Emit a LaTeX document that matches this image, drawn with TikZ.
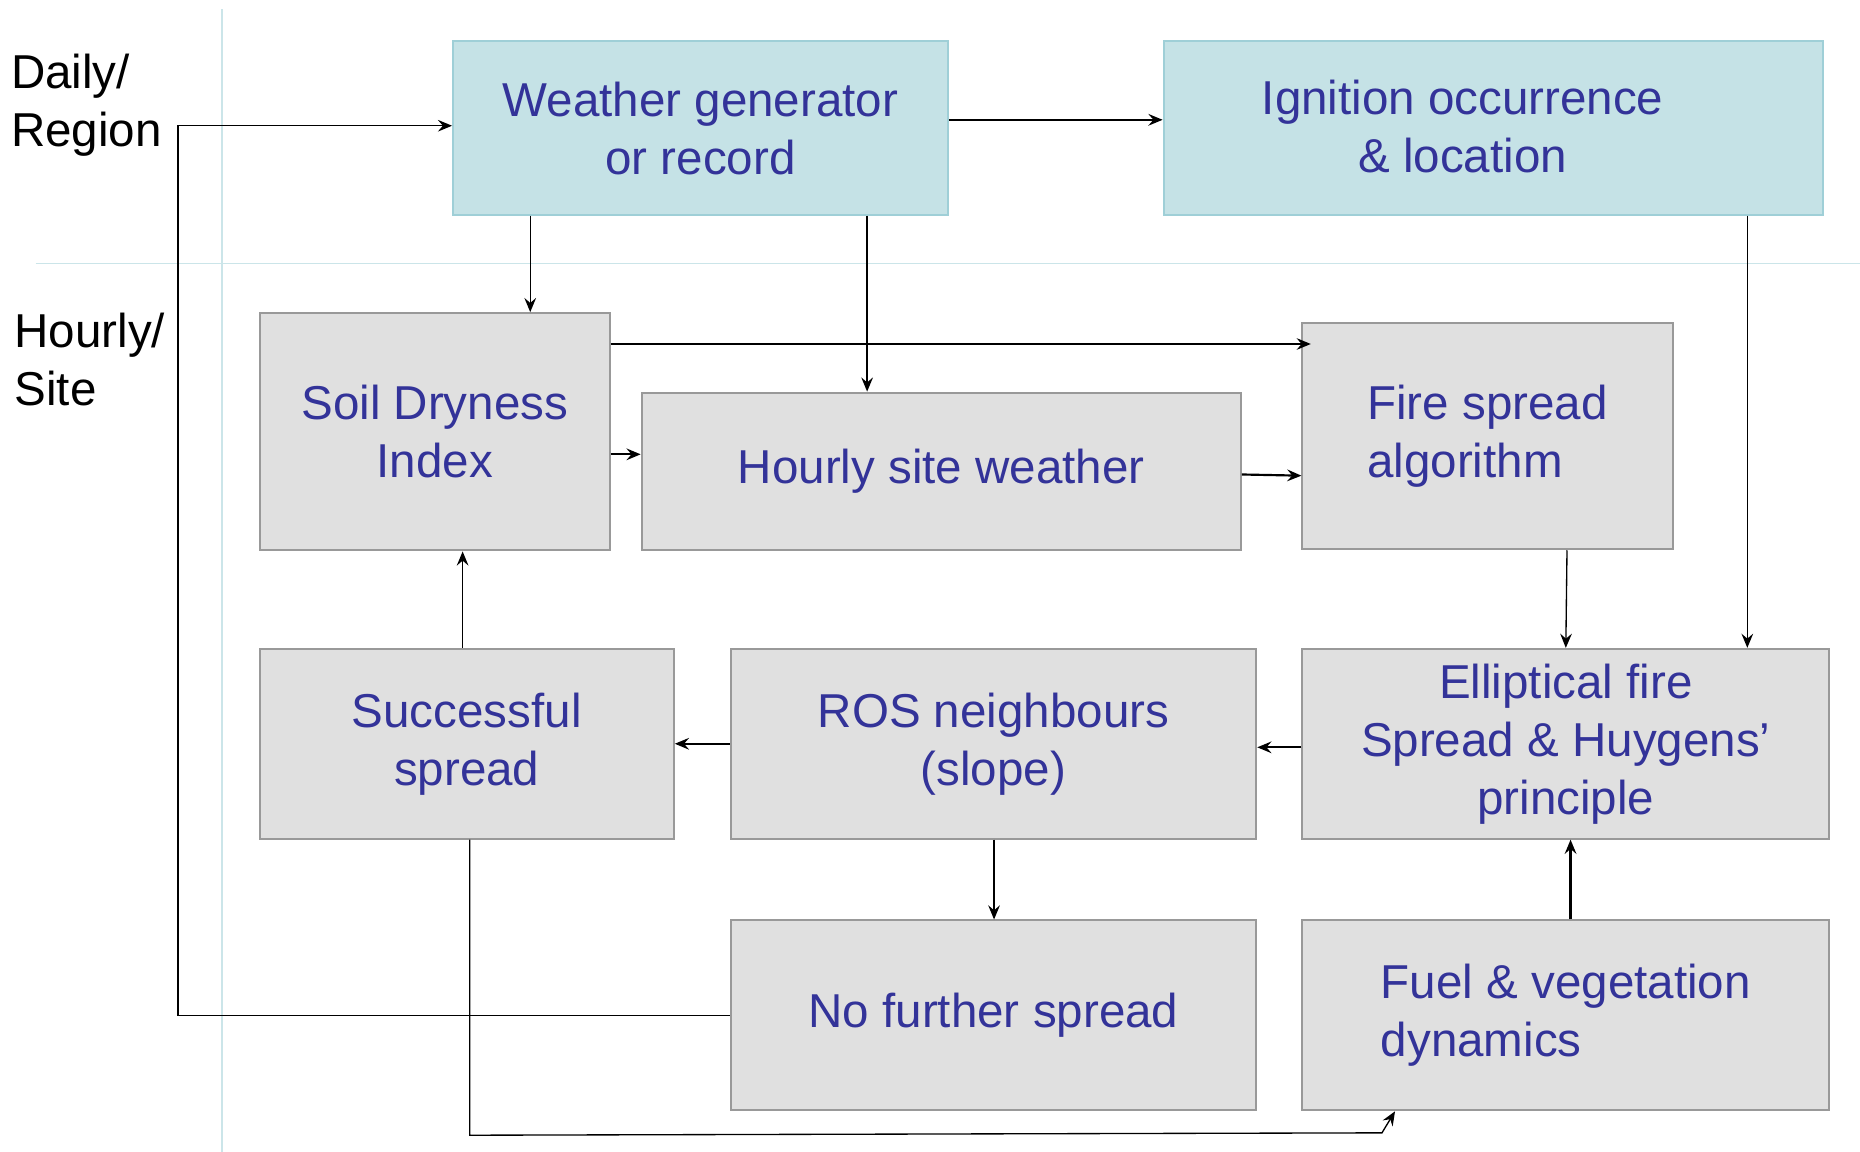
\documentclass[tikz,border=0pt]{standalone}
\usepackage{fontspec}
\setmainfont{Liberation Sans}
\usetikzlibrary{arrows.meta}
\definecolor{boxblue}{HTML}{C5E2E6}
\definecolor{edgeblue}{HTML}{9FCFD7}
\definecolor{boxgray}{HTML}{E0E0E0}
\definecolor{edgegray}{HTML}{999999}
\definecolor{txtblue}{HTML}{333399}
\definecolor{guideblue}{HTML}{CBE5E9}

\begin{document}
\begin{tikzpicture}[x=0.025cm, y=-0.025cm,
	bigtext/.style={font=\fontsize{28.5}{34.8}\selectfont},
	cbox/.style={rectangle, draw=edgeblue, fill=boxblue, line width=1.2pt, text=txtblue, align=center, inner sep=0pt, bigtext},
	gbox/.style={cbox, draw=edgegray, fill=boxgray},
	sidetext/.style={text=black, align=left, inner sep=0pt, anchor=west, bigtext},
	guideline/.style={draw=guideblue, line width=1pt},
	arr/.style={-{Stealth[length=8.5pt, width=7pt, inset=3pt]}, line width=0.8pt},
	arrthick/.style={arr, line width=1.3pt}]
	\useasboundingbox (0,0) rectangle (1568,971);

	% time / space levels
	\draw[guideline] (187,8) -- (187,971);
	\draw[guideline] (30,222) -- (1568,222);
	\node[sidetext] (daily) at (9,89) {Daily/\\Region};
	\node[sidetext] (hourly) at (12,303) {Hourly/\\Site};

	% boxes
	\node[cbox, minimum width=10.425cm, minimum height=3.65cm] (wea) at (590.5,108) {Weather generator\\or record};
	\node[cbox, minimum width=13.9cm, minimum height=3.65cm] (ign) at (1259,108) {};
	\node[text=txtblue, align=center, inner sep=0pt, bigtext] (igntxt) at (1233,107) {Ignition occurrence\\\& location};
	\node[gbox, minimum width=7.375cm, minimum height=5cm] (soil) at (366.5,364) {Soil Dryness\\Index};
	\node[gbox, minimum width=12.625cm, minimum height=3.325cm] (hsw) at (793.5,397.5) {Hourly site weather};
	\node[gbox, align=left, minimum width=7.8cm, minimum height=4.775cm] (fire) at (1254,367.5) {Fire spread\\algorithm};
	\node[gbox, minimum width=8.725cm, minimum height=4cm] (suc) at (393.5,627) {Successful\\spread};
	\node[gbox, minimum width=11.075cm, minimum height=4cm] (ros) at (837.5,627) {ROS neighbours\\(slope)};
	\node[gbox, minimum width=11.1cm, minimum height=4cm] (ell) at (1320,627) {Elliptical fire\\Spread \& Huygens’\\principle};
	\node[gbox, minimum width=11.075cm, minimum height=4cm] (nof) at (837.5,856) {No further spread};
	\node[gbox, align=left, minimum width=11.1cm, minimum height=4cm] (fuel) at (1320,856) {Fuel \& vegetation\\dynamics};

	% connectors
	\coordinate (loop) at (150,106);
	\draw[arr] (nof.west) -| (loop) -- (wea.west |- loop);
	\draw[arrthick] (wea.east |- 0,101) -- (ign.west |- 0,101);
	\draw[arr] (447,0 |- wea.south) -- (447,0 |- soil.north);
	\draw[arr] (731,0 |- wea.south) -- (731,0 |- hsw.north);
	\draw[arr] (soil.east |- 0,290) -- (1105,290);
	\draw[arrthick] (soil.east |- 0,383) -- (hsw.west |- 0,383);
	\draw[arrthick] (hsw.east |- 0,400) -- (fire.west |- 0,401);
	\draw[arr] (1321,0 |- fire.south) -- (1320,0 |- ell.north);
	\draw[arr] (1473,0 |- ign.south) -- (1473,0 |- ell.north);
	\draw[arrthick] (ell.west |- 0,630) -- (ros.east |- 0,630);
	\draw[arrthick] (ros.west) -- (suc.east);
	\draw[arr] (390,0 |- suc.north) -- (390,0 |- soil.south);
	\draw[arr] (838,0 |- ros.south) -- (838,0 |- nof.north);
	\draw[arrthick] (1324,0 |- fuel.north) -- (1324,0 |- ell.south);
	\draw[arr] (396,0 |- suc.south) -- (396,957) -- (1165,955) -- (1176,0 |- fuel.south);
\end{tikzpicture}
\end{document}
